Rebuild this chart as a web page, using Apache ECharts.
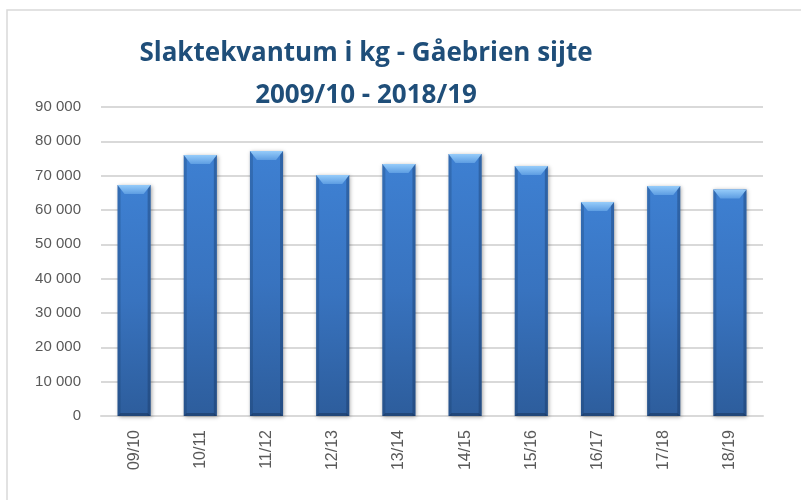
<!DOCTYPE html>
<html>
<head>
<meta charset="utf-8">
<script src="https://cdn.jsdelivr.net/npm/echarts@6/dist/echarts.min.js"></script>
<style>
  html, body { margin: 0; padding: 0; background: #fff; }
  #chart { width: 801px; height: 500px; }
</style>
</head>
<body>
<div id="chart"></div>
<script>
// sesonger og slaktekvantum (kg)
const seasons = ['09/10', '10/11', '11/12', '12/13', '13/14', '14/15', '15/16', '16/17', '17/18', '18/19']
const kg = [67300, 76000, 77200, 70200, 73400, 76300, 72800, 62300, 67000, 66000]
const titleLines = ['Slaktekvantum i kg - Gåebrien sijte', '2009/10 - 2018/19']

const chart = echarts.init(document.getElementById('chart'))

// bar with a bevelled top, drawn from the axis coordinates
function renderBar(params, api) {
  const top = api.coord([api.value(0), api.value(1)])
  const base = api.coord([api.value(0), 0])
  const w = api.size([1, 0])[0] * 0.5
  const x = top[0] - w / 2
  const h = base[1] - top[1]
  const b = Math.min(9, h / 2) // bevel height
  const s = 7 // bevel inset
  return {
    type: 'group',
    children: [
      {
        type: 'rect',
        shape: { x: x, y: top[1], width: w, height: h },
        style: {
          fill: new echarts.graphic.LinearGradient(0, 0, 0, 1, [
            { offset: 0, color: '#3e80d2' },
            { offset: 0.5, color: '#3873bf' },
            { offset: 1, color: '#2d5d9c' }
          ]),
          shadowBlur: 4,
          shadowColor: 'rgba(0,0,0,0.35)',
          shadowOffsetX: 1,
          shadowOffsetY: 1
        }
      },
      {
        // darker side edges
        type: 'rect',
        shape: { x: x, y: top[1], width: 3, height: h },
        style: { fill: 'rgba(20,50,90,0.25)' }
      },
      {
        type: 'rect',
        shape: { x: x + w - 3, y: top[1], width: 3, height: h },
        style: { fill: 'rgba(20,50,90,0.35)' }
      },
      {
        // top bevel
        type: 'polygon',
        shape: { points: [[x, top[1]], [x + w, top[1]], [x + w - s, top[1] + b], [x + s, top[1] + b]] },
        style: {
          fill: new echarts.graphic.LinearGradient(0, 0, 0, 1, [
            { offset: 0, color: '#96ccfa' },
            { offset: 1, color: '#5d9de2' }
          ])
        }
      },
      {
        // bottom bevel
        type: 'polygon',
        shape: { points: [[x, base[1]], [x + w, base[1]], [x + w - 3, base[1] - 3], [x + 3, base[1] - 3]] },
        style: { fill: 'rgba(20,45,80,0.45)' }
      }
    ]
  }
}

const option = {
  animation: false,
  backgroundColor: '#fff',
  graphic: [
    {
      type: 'rect',
      shape: { x: 7, y: 10, width: 900, height: 600 },
      style: { fill: 'none', stroke: '#d9d9d9', lineWidth: 1.5 },
      silent: true
    },
    {
      type: 'text',
      x: 366,
      y: 33,
      style: {
        text: titleLines.join('\n'),
        fill: '#1f4e79',
        font: 'bold 26px "Liberation Sans Narrow", "Open Sans", sans-serif',
        lineHeight: 42,
        align: 'center'
      }
    }
  ],
  grid: {
    left: 101,
    right: 38,
    top: 107,
    bottom: 84
  },
  xAxis: {
    type: 'category',
    data: seasons,
    axisLine: { lineStyle: { color: '#d9d9d9', width: 2 } },
    axisTick: { show: false },
    axisLabel: {
      rotate: 90,
      color: '#595959',
      fontSize: 16,
      fontFamily: 'Liberation Sans',
      margin: 14
    }
  },
  yAxis: {
    type: 'value',
    min: 0,
    max: 90000,
    interval: 10000,
    axisLine: { show: false },
    axisTick: { show: false },
    splitLine: { lineStyle: { color: '#d9d9d9', width: 2 } },
    axisLabel: {
      color: '#595959',
      fontSize: 15,
      fontFamily: 'Liberation Sans',
      margin: 20,
      formatter: v => String(v).replace(/\B(?=(\d{3})+(?!\d))/g, ' ')
    }
  },
  series: [
    {
      type: 'custom',
      renderItem: renderBar,
      encode: { x: 0, y: 1 },
      data: kg.map((v, i) => [i, v])
    }
  ]
}

chart.setOption(option)
</script>
</body>
</html>
